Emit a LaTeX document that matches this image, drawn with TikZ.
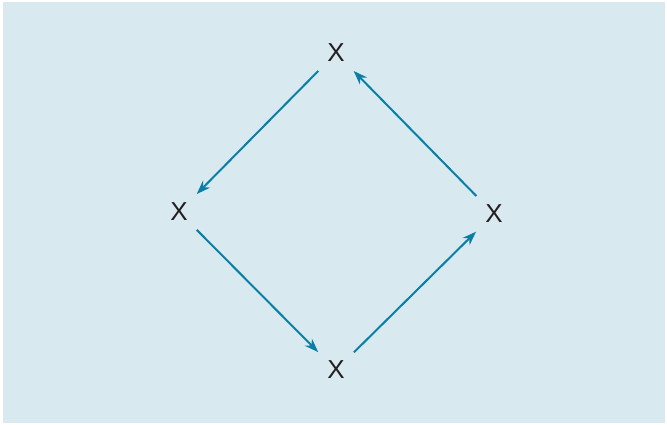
\documentclass[tikz,border=0pt]{standalone}
\usepackage{fontspec}
\setmainfont{Liberation Sans}
\usetikzlibrary{arrows.meta}
\definecolor{bgblue}{HTML}{D9E9F0}
\definecolor{arrowblue}{HTML}{0A7FA6}
\definecolor{txt}{HTML}{231F20}
\begin{document}
\begin{tikzpicture}[x=1pt,y=-1pt,
  lbl/.style={circle,minimum size=50pt,inner sep=0pt,text=txt,font=\fontsize{26}{30}\selectfont},
  conn/.style={draw=arrowblue,line width=2pt,-{Stealth[length=14pt,width=10pt]}}]
\useasboundingbox (0,0) rectangle (667,425);
\fill[white] (0,0) rectangle (667,425);
\fill[bgblue] (3,2) rectangle (665,423);
\node[lbl] (top) at (336,53) {X};
\node[lbl] (left) at (179,212) {X};
\node[lbl] (right) at (494,214) {X};
\node[lbl] (bottom) at (336,370) {X};
\draw[conn] (top) -- (left);
\draw[conn] (left) -- (bottom);
\draw[conn] (bottom) -- (right);
\draw[conn] (right) -- (top);
\end{tikzpicture}
\end{document}
